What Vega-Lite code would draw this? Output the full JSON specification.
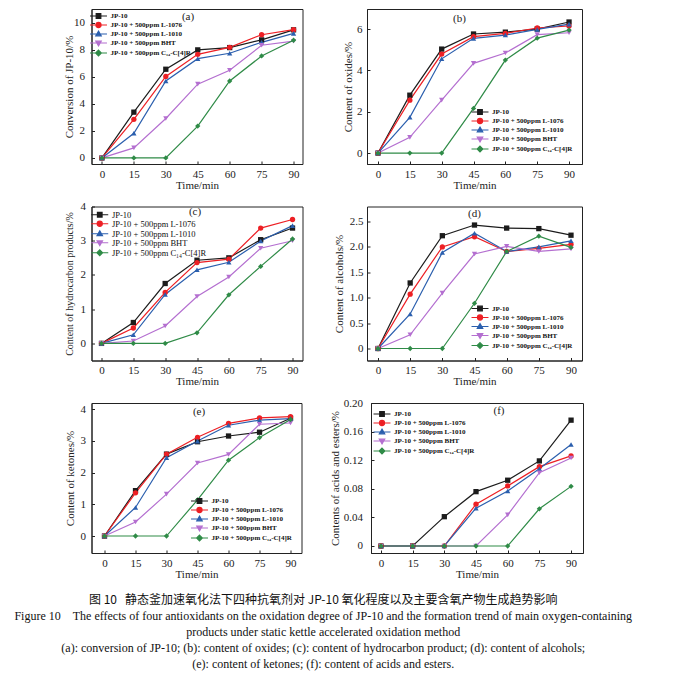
{
"$schema": "https://vega.github.io/schema/vega-lite/v6.json",
"background": "white",
"padding": {"left": 13.5, "top": 8, "right": 5, "bottom": 5},
"data": {"values": [
{"t":0,"s":"JP-10","a":0,"b":0,"c":0,"d":0,"e":0,"f":0},
{"t":15,"s":"JP-10","a":3.38,"b":2.8,"c":0.61,"d":1.29,"e":1.43,"f":0},
{"t":30,"s":"JP-10","a":6.55,"b":5.03,"c":1.75,"d":2.22,"e":2.58,"f":0.041},
{"t":45,"s":"JP-10","a":7.98,"b":5.76,"c":2.43,"d":2.43,"e":2.97,"f":0.076},
{"t":60,"s":"JP-10","a":8.15,"b":5.85,"c":2.5,"d":2.37,"e":3.15,"f":0.092},
{"t":75,"s":"JP-10","a":8.72,"b":6.0,"c":3.03,"d":2.36,"e":3.27,"f":0.119},
{"t":90,"s":"JP-10","a":9.46,"b":6.34,"c":3.37,"d":2.23,"e":3.71,"f":0.176},
{"t":0,"s":"JP-10 + 500ppm L-1076","a":0,"b":0,"c":0,"d":0,"e":0,"f":0},
{"t":15,"s":"JP-10 + 500ppm L-1076","a":2.85,"b":2.56,"c":0.45,"d":1.07,"e":1.36,"f":0},
{"t":30,"s":"JP-10 + 500ppm L-1076","a":6.02,"b":4.79,"c":1.49,"d":2.0,"e":2.58,"f":0},
{"t":45,"s":"JP-10 + 500ppm L-1076","a":7.65,"b":5.63,"c":2.36,"d":2.2,"e":3.11,"f":0.0585},
{"t":60,"s":"JP-10 + 500ppm L-1076","a":8.17,"b":5.79,"c":2.46,"d":1.91,"e":3.55,"f":0.084},
{"t":75,"s":"JP-10 + 500ppm L-1076","a":9.1,"b":6.05,"c":3.37,"d":1.97,"e":3.72,"f":0.111},
{"t":90,"s":"JP-10 + 500ppm L-1076","a":9.47,"b":6.15,"c":3.62,"d":2.05,"e":3.76,"f":0.126},
{"t":0,"s":"JP-10 + 500ppm L-1010","a":0,"b":0,"c":0,"d":0,"e":0,"f":0},
{"t":15,"s":"JP-10 + 500ppm L-1010","a":1.82,"b":1.73,"c":0.25,"d":0.68,"e":0.9,"f":0},
{"t":30,"s":"JP-10 + 500ppm L-1010","a":5.68,"b":4.56,"c":1.43,"d":1.89,"e":2.47,"f":0},
{"t":45,"s":"JP-10 + 500ppm L-1010","a":7.33,"b":5.55,"c":2.15,"d":2.27,"e":2.99,"f":0.053},
{"t":60,"s":"JP-10 + 500ppm L-1010","a":7.73,"b":5.71,"c":2.37,"d":1.91,"e":3.49,"f":0.077},
{"t":75,"s":"JP-10 + 500ppm L-1010","a":8.54,"b":5.98,"c":2.99,"d":2.0,"e":3.65,"f":0.108},
{"t":90,"s":"JP-10 + 500ppm L-1010","a":9.2,"b":6.24,"c":3.44,"d":2.12,"e":3.7,"f":0.142},
{"t":0,"s":"JP-10 + 500ppm BHT","a":0,"b":0,"c":0,"d":0,"e":0,"f":0},
{"t":15,"s":"JP-10 + 500ppm BHT","a":0.74,"b":0.76,"c":0.07,"d":0.27,"e":0.44,"f":0},
{"t":30,"s":"JP-10 + 500ppm BHT","a":2.91,"b":2.56,"c":0.51,"d":1.09,"e":1.32,"f":0},
{"t":45,"s":"JP-10 + 500ppm BHT","a":5.45,"b":4.34,"c":1.37,"d":1.86,"e":2.3,"f":0},
{"t":60,"s":"JP-10 + 500ppm BHT","a":6.47,"b":4.84,"c":1.94,"d":2.01,"e":2.57,"f":0.0435},
{"t":75,"s":"JP-10 + 500ppm BHT","a":8.32,"b":5.73,"c":2.78,"d":1.91,"e":3.52,"f":0.1025},
{"t":90,"s":"JP-10 + 500ppm BHT","a":8.62,"b":5.82,"c":3.0,"d":1.96,"e":3.56,"f":0.123},
{"t":0,"s":"JP-10 + 500ppm C\u2081\u2084-C[4]R","a":0,"b":0,"c":0,"d":0,"e":0,"f":0},
{"t":15,"s":"JP-10 + 500ppm C\u2081\u2084-C[4]R","a":0,"b":0,"c":0,"d":0,"e":0,"f":0},
{"t":30,"s":"JP-10 + 500ppm C\u2081\u2084-C[4]R","a":0,"b":0,"c":0,"d":0,"e":0,"f":0},
{"t":45,"s":"JP-10 + 500ppm C\u2081\u2084-C[4]R","a":2.35,"b":2.16,"c":0.31,"d":0.89,"e":1.14,"f":0},
{"t":60,"s":"JP-10 + 500ppm C\u2081\u2084-C[4]R","a":5.68,"b":4.5,"c":1.42,"d":1.91,"e":2.39,"f":0},
{"t":75,"s":"JP-10 + 500ppm C\u2081\u2084-C[4]R","a":7.53,"b":5.56,"c":2.25,"d":2.21,"e":3.1,"f":0.052},
{"t":90,"s":"JP-10 + 500ppm C\u2081\u2084-C[4]R","a":8.69,"b":5.95,"c":3.05,"d":1.99,"e":3.67,"f":0.0834}
]},
"title": {
  "text": "图 10\u00a0\u00a0\u00a0静态釜加速氧化法下四种抗氧剂对 JP-10 氧化程度以及主要含氧产物生成趋势影响",
  "subtitle": ["Figure 10\u00a0\u00a0\u00a0\u00a0The effects of four antioxidants on the oxidation degree of JP-10 and the formation trend of main oxygen-containing", "products under static kettle accelerated oxidation method", "(a): conversion of JP-10; (b): content of oxides; (c): content of hydrocarbon product; (d): content of alcohols;", "(e): content of ketones; (f): content of acids and esters."],
  "orient": "bottom", "anchor": "middle", "offset": 15,
  "font": "Noto Sans CJK SC", "fontSize": 12, "fontWeight": "normal", "color": "#111",
  "subtitleFont": "Liberation Serif", "subtitleFontSize": 12, "subtitleColor": "#111", "subtitleLineHeight": 16, "subtitlePadding": 4
},
"spacing": 8.5,
"resolve": {"scale": {"color": "independent", "shape": "independent", "fill": "independent", "stroke": "independent"}, "legend": {"color": "independent", "shape": "independent", "fill": "independent", "stroke": "independent"}},
"vconcat": [
{
"spacing": 38.5,
"resolve": {"scale": {"color": "independent", "shape": "independent", "fill": "independent", "stroke": "independent"}, "legend": {"color": "independent", "shape": "independent", "fill": "independent", "stroke": "independent"}},
"hconcat": [
{
 "width": 211, "height": 155,
 "title": {"text": "(a)", "offset": -13, "dx": -9, "anchor": "middle"},
 "resolve": {"scale": {"color": "independent", "shape": "independent", "fill": "independent", "stroke": "independent"}},
 "encoding": {
  "x": {"field": "t", "type": "quantitative", "scale": {"domain": [-4.9, 94.2], "nice": false, "zero": false}, "axis": {"values": [0,15,30,45,60,75,90], "title": "Time/min"}},
  "y": {"field": "a", "type": "quantitative", "scale": {"domain": [-0.45, 11], "nice": false, "zero": false}, "axis": {"values": [0,2,4,6,8,10], "title": "Conversion of JP-10/%", "minExtent": 15, "maxExtent": 15, "titlePadding": 2, "labelPadding": 10}}
 },
 "layer": [
  {"mark": {"type": "line", "strokeWidth": 1.2}, "encoding": {"color": {"field": "s", "type": "nominal", "scale": {"domain": ["JP-10","JP-10 + 500ppm L-1076","JP-10 + 500ppm L-1010","JP-10 + 500ppm BHT","JP-10 + 500ppm C\u2081\u2084-C[4]R"], "range": ["#1c1c1c","#ed1f24","#2b5fae","#b46fd0","#2f8b47"]}, "legend": null}}},
  {"mark": {"type": "point", "filled": true, "size": 28, "opacity": 1}, "encoding": {"color": {"field": "s", "type": "nominal", "scale": {"domain": ["JP-10","JP-10 + 500ppm L-1076","JP-10 + 500ppm L-1010","JP-10 + 500ppm BHT","JP-10 + 500ppm C\u2081\u2084-C[4]R"], "range": ["#1c1c1c","#ed1f24","#2b5fae","#b46fd0","#2f8b47"]}, "legend": null}, "shape": {"field": "s", "type": "nominal", "scale": {"domain": ["JP-10","JP-10 + 500ppm BHT","JP-10 + 500ppm C\u2081\u2084-C[4]R","JP-10 + 500ppm L-1010","JP-10 + 500ppm L-1076"], "range": ["square","triangle-down","diamond","triangle-up","circle"]}, "legend": null}}},
  {"transform": [{"filter": "false"}], "mark": {"type": "point", "filled": true, "size": 28, "opacity": 1}, "encoding": {
    "fill": {"field": "s", "type": "nominal", "scale": {"domain": ["JP-10","JP-10 + 500ppm L-1076","JP-10 + 500ppm L-1010","JP-10 + 500ppm BHT","JP-10 + 500ppm C\u2081\u2084-C[4]R"], "range": ["#1c1c1c","#ed1f24","#2b5fae","#b46fd0","#2f8b47"]}, "legend": {"title": null, "orient": "top-left", "offset": 3, "labelFontSize": 7, "labelFontWeight": "bold"}},
    "stroke": {"field": "s", "type": "nominal", "scale": {"domain": ["JP-10","JP-10 + 500ppm L-1076","JP-10 + 500ppm L-1010","JP-10 + 500ppm BHT","JP-10 + 500ppm C\u2081\u2084-C[4]R"], "range": ["#1c1c1c","#ed1f24","#2b5fae","#b46fd0","#2f8b47"]}, "legend": {"title": null, "orient": "top-left", "offset": 3, "labelFontSize": 7, "labelFontWeight": "bold"}},
    "shape": {"field": "s", "type": "nominal", "scale": {"domain": ["JP-10","JP-10 + 500ppm L-1076","JP-10 + 500ppm L-1010","JP-10 + 500ppm BHT","JP-10 + 500ppm C\u2081\u2084-C[4]R"], "range": ["M-2.83,0H2.83M-0.77,-0.77H0.77V0.77H-0.77Z","M-2.83,0H2.83M0.85,0A0.85,0.85 0 1,1 -0.85,0A0.85,0.85 0 1,1 0.85,0Z","M-2.83,0H2.83M0,-0.95L0.9,0.6L-0.9,0.6Z","M-2.83,0H2.83M0,0.95L0.9,-0.6L-0.9,-0.6Z","M-2.83,0H2.83M0,-0.95L0.95,0L0,0.95L-0.95,0Z"]}, "legend": {"title": null, "orient": "top-left", "offset": 3, "labelFontSize": 7, "labelFontWeight": "bold"}}}}
 ]
},
{
 "width": 215, "height": 155,
 "title": {"text": "(b)", "offset": -15, "dx": -15, "anchor": "middle"},
 "resolve": {"scale": {"color": "independent", "shape": "independent", "fill": "independent", "stroke": "independent"}},
 "encoding": {
  "x": {"field": "t", "type": "quantitative", "scale": {"domain": [-5.18, 96.1], "nice": false, "zero": false}, "axis": {"values": [0,15,30,45,60,75,90], "title": "Time/min"}},
  "y": {"field": "b", "type": "quantitative", "scale": {"domain": [-0.53, 6.97], "nice": false, "zero": false}, "axis": {"values": [0,2,4,6], "title": "Content of oxides/%", "minExtent": 11, "maxExtent": 11, "titlePadding": 2.5, "labelPadding": 8}}
 },
 "layer": [
  {"mark": {"type": "line", "strokeWidth": 1.2}, "encoding": {"color": {"field": "s", "type": "nominal", "scale": {"domain": ["JP-10","JP-10 + 500ppm L-1076","JP-10 + 500ppm L-1010","JP-10 + 500ppm BHT","JP-10 + 500ppm C\u2081\u2084-C[4]R"], "range": ["#1c1c1c","#ed1f24","#2b5fae","#b46fd0","#2f8b47"]}, "legend": null}}},
  {"mark": {"type": "point", "filled": true, "size": 28, "opacity": 1}, "encoding": {"color": {"field": "s", "type": "nominal", "scale": {"domain": ["JP-10","JP-10 + 500ppm L-1076","JP-10 + 500ppm L-1010","JP-10 + 500ppm BHT","JP-10 + 500ppm C\u2081\u2084-C[4]R"], "range": ["#1c1c1c","#ed1f24","#2b5fae","#b46fd0","#2f8b47"]}, "legend": null}, "shape": {"field": "s", "type": "nominal", "scale": {"domain": ["JP-10","JP-10 + 500ppm BHT","JP-10 + 500ppm C\u2081\u2084-C[4]R","JP-10 + 500ppm L-1010","JP-10 + 500ppm L-1076"], "range": ["square","triangle-down","diamond","triangle-up","circle"]}, "legend": null}}},
  {"transform": [{"filter": "false"}], "mark": {"type": "point", "filled": true, "size": 28, "opacity": 1}, "encoding": {
    "fill": {"field": "s", "type": "nominal", "scale": {"domain": ["JP-10","JP-10 + 500ppm L-1076","JP-10 + 500ppm L-1010","JP-10 + 500ppm BHT","JP-10 + 500ppm C\u2081\u2084-C[4]R"], "range": ["#1c1c1c","#ed1f24","#2b5fae","#b46fd0","#2f8b47"]}, "legend": {"title": null, "orient": "bottom-right", "offset": 9, "labelFontSize": 7, "labelFontWeight": "bold"}},
    "stroke": {"field": "s", "type": "nominal", "scale": {"domain": ["JP-10","JP-10 + 500ppm L-1076","JP-10 + 500ppm L-1010","JP-10 + 500ppm BHT","JP-10 + 500ppm C\u2081\u2084-C[4]R"], "range": ["#1c1c1c","#ed1f24","#2b5fae","#b46fd0","#2f8b47"]}, "legend": {"title": null, "orient": "bottom-right", "offset": 9, "labelFontSize": 7, "labelFontWeight": "bold"}},
    "shape": {"field": "s", "type": "nominal", "scale": {"domain": ["JP-10","JP-10 + 500ppm L-1076","JP-10 + 500ppm L-1010","JP-10 + 500ppm BHT","JP-10 + 500ppm C\u2081\u2084-C[4]R"], "range": ["M-2.83,0H2.83M-0.77,-0.77H0.77V0.77H-0.77Z","M-2.83,0H2.83M0.85,0A0.85,0.85 0 1,1 -0.85,0A0.85,0.85 0 1,1 0.85,0Z","M-2.83,0H2.83M0,-0.95L0.9,0.6L-0.9,0.6Z","M-2.83,0H2.83M0,0.95L0.9,-0.6L-0.9,-0.6Z","M-2.83,0H2.83M0,-0.95L0.95,0L0,0.95L-0.95,0Z"]}, "legend": {"title": null, "orient": "bottom-right", "offset": 9, "labelFontSize": 7, "labelFontWeight": "bold"}}}}
 ]
}
]
},
{
"spacing": 29.5,
"resolve": {"scale": {"color": "independent", "shape": "independent", "fill": "independent", "stroke": "independent"}, "legend": {"color": "independent", "shape": "independent", "fill": "independent", "stroke": "independent"}},
"hconcat": [
{
 "width": 211, "height": 154,
 "title": {"text": "(c)", "offset": -16, "dx": -2, "anchor": "middle"},
 "resolve": {"scale": {"color": "independent", "shape": "independent", "fill": "independent", "stroke": "independent"}},
 "encoding": {
  "x": {"field": "t", "type": "quantitative", "scale": {"domain": [-4.71, 94.7], "nice": false, "zero": false}, "axis": {"values": [0,15,30,45,60,75,90], "title": "Time/min"}},
  "y": {"field": "c", "type": "quantitative", "scale": {"domain": [-0.5, 4.0], "nice": false, "zero": false}, "axis": {"values": [0,1,2,3,4], "title": "Content of hydrocarbon products/%", "titleFontSize": 10, "minExtent": 15, "maxExtent": 15, "titlePadding": 2, "labelPadding": 9}}
 },
 "layer": [
  {"mark": {"type": "line", "strokeWidth": 1.2}, "encoding": {"color": {"field": "s", "type": "nominal", "scale": {"domain": ["JP-10","JP-10 + 500ppm L-1076","JP-10 + 500ppm L-1010","JP-10 + 500ppm BHT","JP-10 + 500ppm C\u2081\u2084-C[4]R"], "range": ["#1c1c1c","#ed1f24","#2b5fae","#b46fd0","#2f8b47"]}, "legend": null}}},
  {"mark": {"type": "point", "filled": true, "size": 28, "opacity": 1}, "encoding": {"color": {"field": "s", "type": "nominal", "scale": {"domain": ["JP-10","JP-10 + 500ppm L-1076","JP-10 + 500ppm L-1010","JP-10 + 500ppm BHT","JP-10 + 500ppm C\u2081\u2084-C[4]R"], "range": ["#1c1c1c","#ed1f24","#2b5fae","#b46fd0","#2f8b47"]}, "legend": null}, "shape": {"field": "s", "type": "nominal", "scale": {"domain": ["JP-10","JP-10 + 500ppm BHT","JP-10 + 500ppm C\u2081\u2084-C[4]R","JP-10 + 500ppm L-1010","JP-10 + 500ppm L-1076"], "range": ["square","triangle-down","diamond","triangle-up","circle"]}, "legend": null}}},
  {"transform": [{"filter": "false"}], "mark": {"type": "point", "filled": true, "size": 28, "opacity": 1}, "encoding": {
    "fill": {"field": "s", "type": "nominal", "scale": {"domain": ["JP-10","JP-10 + 500ppm L-1076","JP-10 + 500ppm L-1010","JP-10 + 500ppm BHT","JP-10 + 500ppm C\u2081\u2084-C[4]R"], "range": ["#1c1c1c","#ed1f24","#2b5fae","#b46fd0","#2f8b47"]}, "legend": {"title": null, "orient": "top-left", "offset": 4, "labelFontSize": 8.5, "labelFontWeight": "normal", "rowPadding": -1.5}},
    "stroke": {"field": "s", "type": "nominal", "scale": {"domain": ["JP-10","JP-10 + 500ppm L-1076","JP-10 + 500ppm L-1010","JP-10 + 500ppm BHT","JP-10 + 500ppm C\u2081\u2084-C[4]R"], "range": ["#1c1c1c","#ed1f24","#2b5fae","#b46fd0","#2f8b47"]}, "legend": {"title": null, "orient": "top-left", "offset": 4, "labelFontSize": 8.5, "labelFontWeight": "normal", "rowPadding": -1.5}},
    "shape": {"field": "s", "type": "nominal", "scale": {"domain": ["JP-10","JP-10 + 500ppm L-1076","JP-10 + 500ppm L-1010","JP-10 + 500ppm BHT","JP-10 + 500ppm C\u2081\u2084-C[4]R"], "range": ["M-2.83,0H2.83M-0.77,-0.77H0.77V0.77H-0.77Z","M-2.83,0H2.83M0.85,0A0.85,0.85 0 1,1 -0.85,0A0.85,0.85 0 1,1 0.85,0Z","M-2.83,0H2.83M0,-0.95L0.9,0.6L-0.9,0.6Z","M-2.83,0H2.83M0,0.95L0.9,-0.6L-0.9,-0.6Z","M-2.83,0H2.83M0,-0.95L0.95,0L0,0.95L-0.95,0Z"]}, "legend": {"title": null, "orient": "top-left", "offset": 4, "labelFontSize": 8.5, "labelFontWeight": "normal", "rowPadding": -1.5}}}}
 ]
},
{
 "width": 215, "height": 154,
 "title": {"text": "(d)", "offset": -12, "dx": 0, "anchor": "middle"},
 "resolve": {"scale": {"color": "independent", "shape": "independent", "fill": "independent", "stroke": "independent"}},
 "encoding": {
  "x": {"field": "t", "type": "quantitative", "scale": {"domain": [-5.13, 95.13], "nice": false, "zero": false}, "axis": {"values": [0,15,30,45,60,75,90], "title": "Time/min"}},
  "y": {"field": "d", "type": "quantitative", "scale": {"domain": [-0.236, 2.795], "nice": false, "zero": false}, "axis": {"values": [0,0.5,1,1.5,2,2.5], "labelExpr": "datum.value === 0 ? '0' : format(datum.value, '.1f')", "title": "Content of alcohols/%", "minExtent": 16, "maxExtent": 16, "titlePadding": 6.5, "labelPadding": 7}}
 },
 "layer": [
  {"mark": {"type": "line", "strokeWidth": 1.2}, "encoding": {"color": {"field": "s", "type": "nominal", "scale": {"domain": ["JP-10","JP-10 + 500ppm L-1076","JP-10 + 500ppm L-1010","JP-10 + 500ppm BHT","JP-10 + 500ppm C\u2081\u2084-C[4]R"], "range": ["#1c1c1c","#ed1f24","#2b5fae","#b46fd0","#2f8b47"]}, "legend": null}}},
  {"mark": {"type": "point", "filled": true, "size": 28, "opacity": 1}, "encoding": {"color": {"field": "s", "type": "nominal", "scale": {"domain": ["JP-10","JP-10 + 500ppm L-1076","JP-10 + 500ppm L-1010","JP-10 + 500ppm BHT","JP-10 + 500ppm C\u2081\u2084-C[4]R"], "range": ["#1c1c1c","#ed1f24","#2b5fae","#b46fd0","#2f8b47"]}, "legend": null}, "shape": {"field": "s", "type": "nominal", "scale": {"domain": ["JP-10","JP-10 + 500ppm BHT","JP-10 + 500ppm C\u2081\u2084-C[4]R","JP-10 + 500ppm L-1010","JP-10 + 500ppm L-1076"], "range": ["square","triangle-down","diamond","triangle-up","circle"]}, "legend": null}}},
  {"transform": [{"filter": "false"}], "mark": {"type": "point", "filled": true, "size": 28, "opacity": 1}, "encoding": {
    "fill": {"field": "s", "type": "nominal", "scale": {"domain": ["JP-10","JP-10 + 500ppm L-1076","JP-10 + 500ppm L-1010","JP-10 + 500ppm BHT","JP-10 + 500ppm C\u2081\u2084-C[4]R"], "range": ["#1c1c1c","#ed1f24","#2b5fae","#b46fd0","#2f8b47"]}, "legend": {"title": null, "orient": "bottom-right", "offset": 9, "labelFontSize": 7, "labelFontWeight": "bold"}},
    "stroke": {"field": "s", "type": "nominal", "scale": {"domain": ["JP-10","JP-10 + 500ppm L-1076","JP-10 + 500ppm L-1010","JP-10 + 500ppm BHT","JP-10 + 500ppm C\u2081\u2084-C[4]R"], "range": ["#1c1c1c","#ed1f24","#2b5fae","#b46fd0","#2f8b47"]}, "legend": {"title": null, "orient": "bottom-right", "offset": 9, "labelFontSize": 7, "labelFontWeight": "bold"}},
    "shape": {"field": "s", "type": "nominal", "scale": {"domain": ["JP-10","JP-10 + 500ppm L-1076","JP-10 + 500ppm L-1010","JP-10 + 500ppm BHT","JP-10 + 500ppm C\u2081\u2084-C[4]R"], "range": ["M-2.83,0H2.83M-0.77,-0.77H0.77V0.77H-0.77Z","M-2.83,0H2.83M0.85,0A0.85,0.85 0 1,1 -0.85,0A0.85,0.85 0 1,1 0.85,0Z","M-2.83,0H2.83M0,-0.95L0.9,0.6L-0.9,0.6Z","M-2.83,0H2.83M0,0.95L0.9,-0.6L-0.9,-0.6Z","M-2.83,0H2.83M0,-0.95L0.95,0L0,0.95L-0.95,0Z"]}, "legend": {"title": null, "orient": "bottom-right", "offset": 9, "labelFontSize": 7, "labelFontWeight": "bold"}}}}
 ]
}
]
},
{
"spacing": 25.5,
"resolve": {"scale": {"color": "independent", "shape": "independent", "fill": "independent", "stroke": "independent"}, "legend": {"color": "independent", "shape": "independent", "fill": "independent", "stroke": "independent"}},
"hconcat": [
{
 "width": 210, "height": 150,
 "title": {"text": "(e)", "offset": -14, "dx": 2.5, "anchor": "middle"},
 "resolve": {"scale": {"color": "independent", "shape": "independent", "fill": "independent", "stroke": "independent"}},
 "encoding": {
  "x": {"field": "t", "type": "quantitative", "scale": {"domain": [-6.29, 95.3], "nice": false, "zero": false}, "axis": {"values": [0,15,30,45,60,75,90], "title": "Time/min"}},
  "y": {"field": "e", "type": "quantitative", "scale": {"domain": [-0.535, 4.19], "nice": false, "zero": false}, "axis": {"values": [0,1,2,3,4], "title": "Content of ketones/%", "minExtent": 15, "maxExtent": 15, "titlePadding": 1, "labelPadding": 9}}
 },
 "layer": [
  {"mark": {"type": "line", "strokeWidth": 1.2}, "encoding": {"color": {"field": "s", "type": "nominal", "scale": {"domain": ["JP-10","JP-10 + 500ppm L-1076","JP-10 + 500ppm L-1010","JP-10 + 500ppm BHT","JP-10 + 500ppm C\u2081\u2084-C[4]R"], "range": ["#1c1c1c","#ed1f24","#2b5fae","#b46fd0","#2f8b47"]}, "legend": null}}},
  {"mark": {"type": "point", "filled": true, "size": 28, "opacity": 1}, "encoding": {"color": {"field": "s", "type": "nominal", "scale": {"domain": ["JP-10","JP-10 + 500ppm L-1076","JP-10 + 500ppm L-1010","JP-10 + 500ppm BHT","JP-10 + 500ppm C\u2081\u2084-C[4]R"], "range": ["#1c1c1c","#ed1f24","#2b5fae","#b46fd0","#2f8b47"]}, "legend": null}, "shape": {"field": "s", "type": "nominal", "scale": {"domain": ["JP-10","JP-10 + 500ppm BHT","JP-10 + 500ppm C\u2081\u2084-C[4]R","JP-10 + 500ppm L-1010","JP-10 + 500ppm L-1076"], "range": ["square","triangle-down","diamond","triangle-up","circle"]}, "legend": null}}},
  {"transform": [{"filter": "false"}], "mark": {"type": "point", "filled": true, "size": 28, "opacity": 1}, "encoding": {
    "fill": {"field": "s", "type": "nominal", "scale": {"domain": ["JP-10","JP-10 + 500ppm L-1076","JP-10 + 500ppm L-1010","JP-10 + 500ppm BHT","JP-10 + 500ppm C\u2081\u2084-C[4]R"], "range": ["#1c1c1c","#ed1f24","#2b5fae","#b46fd0","#2f8b47"]}, "legend": {"title": null, "orient": "bottom-right", "offset": 9, "labelFontSize": 7, "labelFontWeight": "bold"}},
    "stroke": {"field": "s", "type": "nominal", "scale": {"domain": ["JP-10","JP-10 + 500ppm L-1076","JP-10 + 500ppm L-1010","JP-10 + 500ppm BHT","JP-10 + 500ppm C\u2081\u2084-C[4]R"], "range": ["#1c1c1c","#ed1f24","#2b5fae","#b46fd0","#2f8b47"]}, "legend": {"title": null, "orient": "bottom-right", "offset": 9, "labelFontSize": 7, "labelFontWeight": "bold"}},
    "shape": {"field": "s", "type": "nominal", "scale": {"domain": ["JP-10","JP-10 + 500ppm L-1076","JP-10 + 500ppm L-1010","JP-10 + 500ppm BHT","JP-10 + 500ppm C\u2081\u2084-C[4]R"], "range": ["M-2.83,0H2.83M-0.77,-0.77H0.77V0.77H-0.77Z","M-2.83,0H2.83M0.85,0A0.85,0.85 0 1,1 -0.85,0A0.85,0.85 0 1,1 0.85,0Z","M-2.83,0H2.83M0,-0.95L0.9,0.6L-0.9,0.6Z","M-2.83,0H2.83M0,0.95L0.9,-0.6L-0.9,-0.6Z","M-2.83,0H2.83M0,-0.95L0.95,0L0,0.95L-0.95,0Z"]}, "legend": {"title": null, "orient": "bottom-right", "offset": 9, "labelFontSize": 7, "labelFontWeight": "bold"}}}}
 ]
},
{
 "width": 212, "height": 150,
 "title": {"text": "(f)", "offset": -19, "dx": 22, "anchor": "middle"},
 "resolve": {"scale": {"color": "independent", "shape": "independent", "fill": "independent", "stroke": "independent"}},
 "encoding": {
  "x": {"field": "t", "type": "quantitative", "scale": {"domain": [-4.71, 95.65], "nice": false, "zero": false}, "axis": {"values": [0,15,30,45,60,75,90], "title": "Time/min"}},
  "y": {"field": "f", "type": "quantitative", "scale": {"domain": [-0.0098, 0.2], "nice": false, "zero": false}, "axis": {"values": [0,0.04,0.08,0.12,0.16,0.2], "labelExpr": "datum.value === 0 ? '0' : format(datum.value, '.2f')", "title": "Contents of acids and esters/%", "minExtent": 27, "maxExtent": 27, "titlePadding": 3.5, "labelPadding": 11.5}}
 },
 "layer": [
  {"mark": {"type": "line", "strokeWidth": 1.2}, "encoding": {"color": {"field": "s", "type": "nominal", "scale": {"domain": ["JP-10","JP-10 + 500ppm L-1076","JP-10 + 500ppm L-1010","JP-10 + 500ppm BHT","JP-10 + 500ppm C\u2081\u2084-C[4]R"], "range": ["#1c1c1c","#ed1f24","#2b5fae","#b46fd0","#2f8b47"]}, "legend": null}}},
  {"mark": {"type": "point", "filled": true, "size": 28, "opacity": 1}, "encoding": {"color": {"field": "s", "type": "nominal", "scale": {"domain": ["JP-10","JP-10 + 500ppm L-1076","JP-10 + 500ppm L-1010","JP-10 + 500ppm BHT","JP-10 + 500ppm C\u2081\u2084-C[4]R"], "range": ["#1c1c1c","#ed1f24","#2b5fae","#b46fd0","#2f8b47"]}, "legend": null}, "shape": {"field": "s", "type": "nominal", "scale": {"domain": ["JP-10","JP-10 + 500ppm BHT","JP-10 + 500ppm C\u2081\u2084-C[4]R","JP-10 + 500ppm L-1010","JP-10 + 500ppm L-1076"], "range": ["square","triangle-down","diamond","triangle-up","circle"]}, "legend": null}}},
  {"transform": [{"filter": "false"}], "mark": {"type": "point", "filled": true, "size": 28, "opacity": 1}, "encoding": {
    "fill": {"field": "s", "type": "nominal", "scale": {"domain": ["JP-10","JP-10 + 500ppm L-1076","JP-10 + 500ppm L-1010","JP-10 + 500ppm BHT","JP-10 + 500ppm C\u2081\u2084-C[4]R"], "range": ["#1c1c1c","#ed1f24","#2b5fae","#b46fd0","#2f8b47"]}, "legend": {"title": null, "orient": "top-left", "offset": 7, "labelFontSize": 7, "labelFontWeight": "bold"}},
    "stroke": {"field": "s", "type": "nominal", "scale": {"domain": ["JP-10","JP-10 + 500ppm L-1076","JP-10 + 500ppm L-1010","JP-10 + 500ppm BHT","JP-10 + 500ppm C\u2081\u2084-C[4]R"], "range": ["#1c1c1c","#ed1f24","#2b5fae","#b46fd0","#2f8b47"]}, "legend": {"title": null, "orient": "top-left", "offset": 7, "labelFontSize": 7, "labelFontWeight": "bold"}},
    "shape": {"field": "s", "type": "nominal", "scale": {"domain": ["JP-10","JP-10 + 500ppm L-1076","JP-10 + 500ppm L-1010","JP-10 + 500ppm BHT","JP-10 + 500ppm C\u2081\u2084-C[4]R"], "range": ["M-2.83,0H2.83M-0.77,-0.77H0.77V0.77H-0.77Z","M-2.83,0H2.83M0.85,0A0.85,0.85 0 1,1 -0.85,0A0.85,0.85 0 1,1 0.85,0Z","M-2.83,0H2.83M0,-0.95L0.9,0.6L-0.9,0.6Z","M-2.83,0H2.83M0,0.95L0.9,-0.6L-0.9,-0.6Z","M-2.83,0H2.83M0,-0.95L0.95,0L0,0.95L-0.95,0Z"]}, "legend": {"title": null, "orient": "top-left", "offset": 7, "labelFontSize": 7, "labelFontWeight": "bold"}}}}
 ]
}
]
}
],
"config": {
 "font": "Liberation Serif",
 "view": {"stroke": "#222", "strokeWidth": 1},
 "axis": {"grid": false, "labelFont": "Liberation Serif", "labelFontSize": 11, "titleFont": "Liberation Serif", "titleFontSize": 11, "titleFontWeight": "normal", "labelColor": "#222", "titleColor": "#222", "domainColor": "#222", "tickColor": "#222", "tickSize": -3, "labelPadding": 7, "titlePadding": 0, "labelFlush": false, "labelOverlap": false},
 "legend": {"symbolSize": 36, "symbolStrokeWidth": 1.2, "labelOffset": 8, "rowPadding": -2.25, "padding": 0, "labelFont": "Liberation Serif", "labelColor": "#111", "symbolOffset": 0, "symbolOpacity": 1},
 "title": {"font": "Liberation Serif", "fontSize": 11, "fontWeight": "normal", "color": "#222"}
}
}
